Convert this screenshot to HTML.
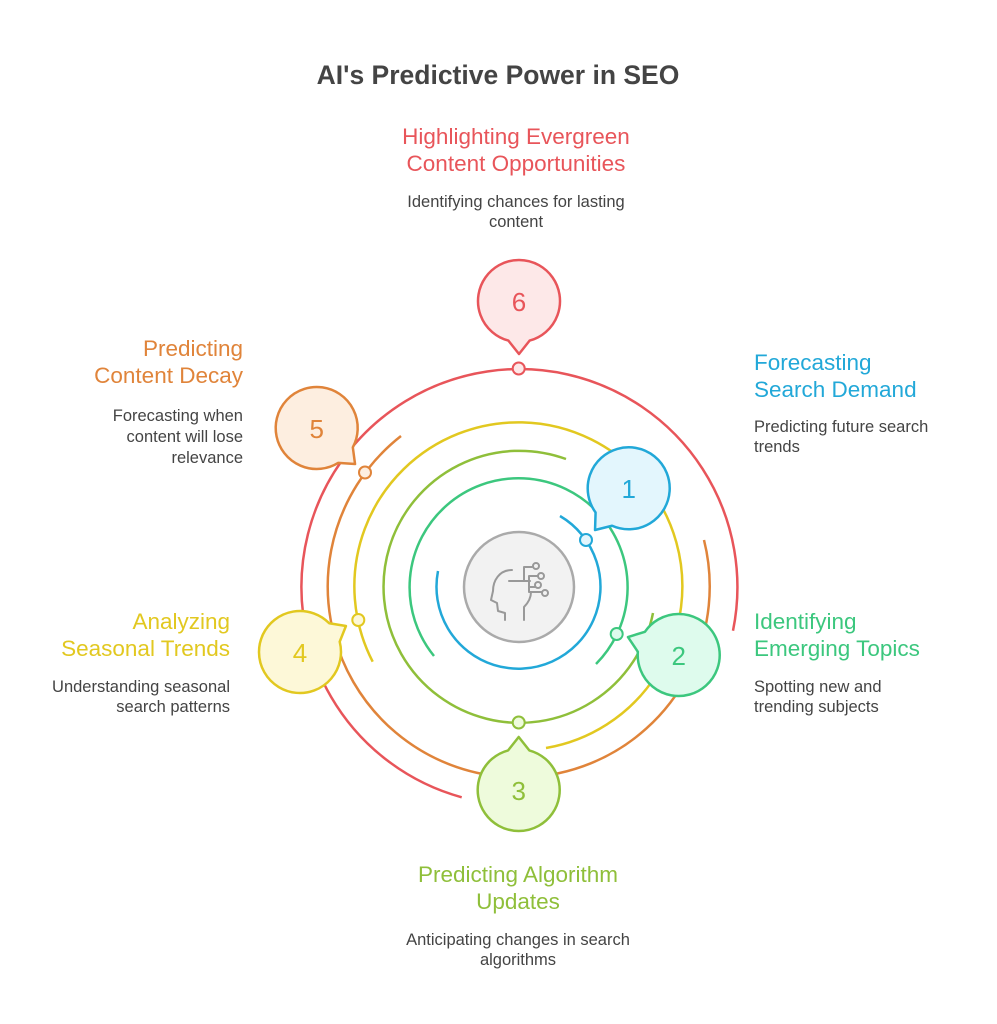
<!DOCTYPE html>
<html><head><meta charset="utf-8"><style>
html,body{margin:0;padding:0;background:#fff}
svg{display:block}
text{font-family:"Liberation Sans",sans-serif}
</style></head><body>
<svg width="997" height="1024" viewBox="0 0 997 1024" xmlns="http://www.w3.org/2000/svg">
<text x="498" y="84" text-anchor="middle" font-size="26.5" font-weight="bold" fill="#444">AI's Predictive Power in SEO</text>

<g fill="none" stroke-width="2.5">
<path d="M 461.7 797.3 A 218 218 0 1 1 733 630.7" stroke="#e8555a"/>
<path d="M 401 436 A 191 191 0 1 0 704 540" stroke="#e0843a"/>
<path d="M 372.7 661.7 A 164 164 0 1 1 546 748" stroke="#e2c820"/>
<path d="M 566 459 A 136 136 0 1 0 653 613" stroke="#8fbf3a"/>
<path d="M 434 656 A 109 109 0 1 1 596 664" stroke="#3cc77e"/>
<path d="M 560 516 A 82 82 0 1 1 438 571" stroke="#22a8d8"/>
</g>
<g stroke-width="2">
<circle cx="586" cy="540" r="6" fill="#e3f6fd" stroke="#22a8d8"/>
<circle cx="616.7" cy="634" r="6" fill="#defbed" stroke="#3cc77e"/>
<circle cx="518.7" cy="722.5" r="6" fill="#eefbdc" stroke="#8fbf3a"/>
<circle cx="358.3" cy="620" r="6" fill="#fdf8d8" stroke="#e2c820"/>
<circle cx="365" cy="472.5" r="6" fill="#fdeee0" stroke="#e0843a"/>
<circle cx="518.7" cy="368.5" r="6" fill="#fde8e8" stroke="#e8555a"/>
</g>

<circle cx="519" cy="587" r="55" fill="#f2f2f2" stroke="#aaa" stroke-width="2.5"/>
<g fill="none" stroke="#999" stroke-width="2" stroke-linecap="round" stroke-linejoin="round">
<path d="M 512 570 C 499 570 493 581 493 591 L 491 600 L 497 603 L 498 611 L 505 613 L 505 620"/>
<path d="M 524 620 L 524 607 C 529 602 531 597 531 592"/>
<path d="M 509 581 L 530 581"/>
<path d="M 524 581 L 524 567 L 532 567 M 529 581 L 529 576 L 538 576 M 529 581 L 529 592 L 542 592 M 529 587 L 535 587"/>
<circle cx="536" cy="566" r="3" fill="#f2f2f2"/>
<circle cx="541" cy="576" r="3" fill="#f2f2f2"/>
<circle cx="538" cy="585" r="3" fill="#f2f2f2"/>
<circle cx="545" cy="593" r="3" fill="#f2f2f2"/>
</g>

<g stroke-width="2.5" stroke-linejoin="round">
<path transform="translate(628.7,488.3) rotate(128.9)" d="M 39.6 -10.6 L 53.6 0 L 39.6 10.6 A 41 41 0 1 1 39.6 -10.6 Z" fill="#e3f6fd" stroke="#22a8d8"/>
<path transform="translate(678.7,655) rotate(199.5)" d="M 39.6 -10.6 L 53.8 0 L 39.6 10.6 A 41 41 0 1 1 39.6 -10.6 Z" fill="#defbed" stroke="#3cc77e"/>
<path transform="translate(518.7,790) rotate(-90)" d="M 39.6 -10.6 L 53 0 L 39.6 10.6 A 41 41 0 1 1 39.6 -10.6 Z" fill="#eefbdc" stroke="#8fbf3a"/>
<path transform="translate(300,652) rotate(-29.5)" d="M 39.6 -10.6 L 52.8 0 L 39.6 10.6 A 41 41 0 1 1 39.6 -10.6 Z" fill="#fdf8d8" stroke="#e2c820"/>
<path transform="translate(316.7,428) rotate(43.2)" d="M 39.6 -10.6 L 52.6 0 L 39.6 10.6 A 41 41 0 1 1 39.6 -10.6 Z" fill="#fdeee0" stroke="#e0843a"/>
<path transform="translate(519,301) rotate(90)" d="M 39.6 -10.6 L 53 0 L 39.6 10.6 A 41 41 0 1 1 39.6 -10.6 Z" fill="#fde8e8" stroke="#e8555a"/>
</g>
<g font-size="26" text-anchor="middle">
<text x="628.7" y="498" fill="#22a8d8">1</text>
<text x="678.7" y="665" fill="#3cc77e">2</text>
<text x="518.7" y="800" fill="#8fbf3a">3</text>
<text x="300" y="662" fill="#e2c820">4</text>
<text x="316.7" y="438" fill="#e0843a">5</text>
<text x="519" y="311" fill="#e8555a">6</text>
</g>

<g font-size="22.5">
<text x="516" y="144" text-anchor="middle" fill="#e8555a">Highlighting Evergreen</text>
<text x="516" y="171" text-anchor="middle" fill="#e8555a">Content Opportunities</text>
<text x="754" y="370" fill="#22a8d8">Forecasting</text>
<text x="754" y="397" fill="#22a8d8">Search Demand</text>
<text x="754" y="629" fill="#3cc77e">Identifying</text>
<text x="754" y="656" fill="#3cc77e">Emerging Topics</text>
<text x="518" y="882" text-anchor="middle" fill="#8fbf3a">Predicting Algorithm</text>
<text x="518" y="909" text-anchor="middle" fill="#8fbf3a">Updates</text>
<text x="230" y="629" text-anchor="end" fill="#e2c820">Analyzing</text>
<text x="230" y="656" text-anchor="end" fill="#e2c820">Seasonal Trends</text>
<text x="243" y="356" text-anchor="end" fill="#e0843a">Predicting</text>
<text x="243" y="383" text-anchor="end" fill="#e0843a">Content Decay</text>
</g>
<g font-size="16.5" fill="#444">
<text x="516" y="207" text-anchor="middle">Identifying chances for lasting</text>
<text x="516" y="227" text-anchor="middle">content</text>
<text x="754" y="432">Predicting future search</text>
<text x="754" y="452">trends</text>
<text x="754" y="692">Spotting new and</text>
<text x="754" y="712">trending subjects</text>
<text x="518" y="945" text-anchor="middle">Anticipating changes in search</text>
<text x="518" y="965" text-anchor="middle">algorithms</text>
<text x="230" y="692" text-anchor="end">Understanding seasonal</text>
<text x="230" y="712" text-anchor="end">search patterns</text>
<text x="243" y="421" text-anchor="end">Forecasting when</text>
<text x="243" y="442" text-anchor="end">content will lose</text>
<text x="243" y="463" text-anchor="end">relevance</text>
</g>
</svg>
</body></html>
